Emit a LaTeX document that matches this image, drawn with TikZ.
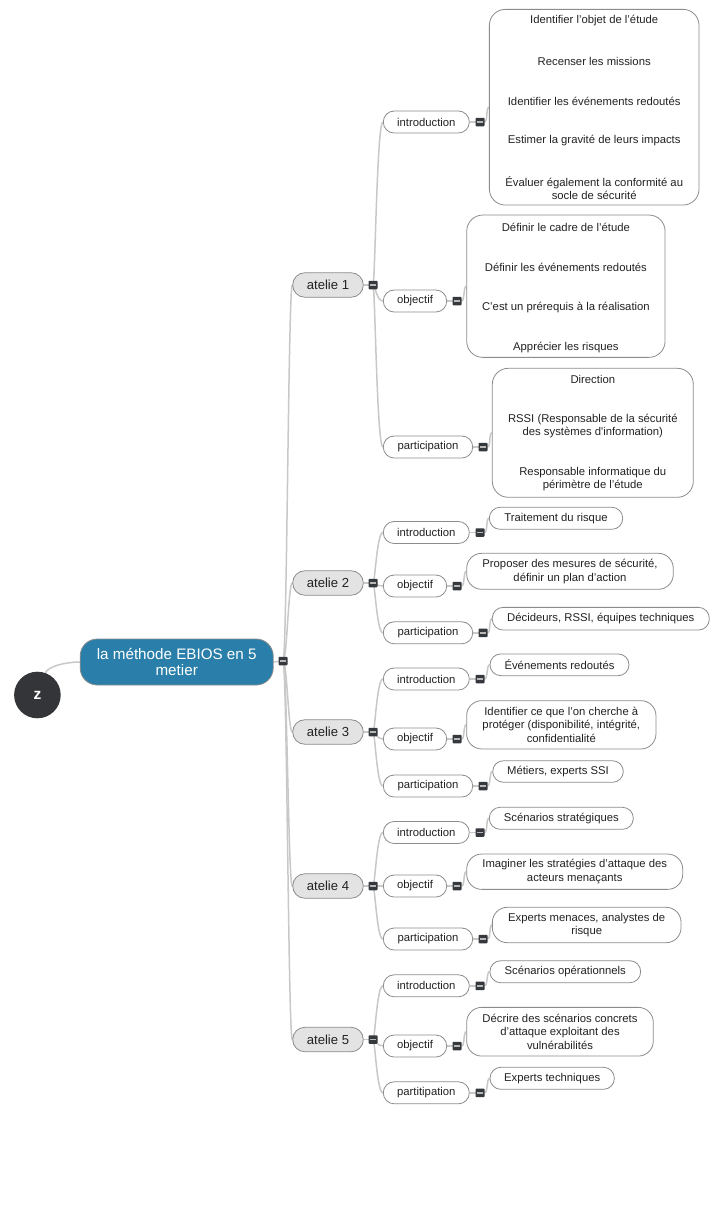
\documentclass[tikz,border=0pt]{standalone}
\usepackage{fontspec}
\setmainfont{Liberation Sans}
\usetikzlibrary{backgrounds}
\definecolor{linec}{HTML}{C8C8C8}
\definecolor{borderc}{HTML}{8C8C8C}
\definecolor{minusc}{HTML}{35383C}
\definecolor{rootc}{HTML}{2A7FAA}
\definecolor{ateliec}{HTML}{E3E3E3}
\definecolor{textc}{HTML}{222222}
\definecolor{zcol}{HTML}{333538}
\begin{document}
\begin{tikzpicture}[x=1pt,y=-1pt,
 link/.style={draw=linec,line width=1.5pt},
 box/.style={draw=borderc,line width=0.8pt,fill=white,inner sep=0pt,text=textc,align=center,font=\fontsize{11.3}{13.6}\selectfont},
 lbl/.style={box,minimum height=22pt,rounded corners=10.9pt},
 pill/.style={box,rounded corners=10.8pt},
 pilltwo/.style={box,rounded corners=15pt},
 atl/.style={box,fill=ateliec,minimum width=70.6pt,minimum height=24.5pt,rounded corners=12.2pt,font=\fontsize{13.1}{15}\selectfont},
 lt/.style={inner sep=0pt,text=textc,align=center,font=\fontsize{11.3}{12.8}\selectfont},
 mn/.style={rectangle,fill=minusc,minimum width=9pt,minimum height=8.5pt,inner sep=0pt,rounded corners=0.8pt,
   path picture={\draw[line width=1.5pt,draw=white!72!black] ([xshift=-2.6pt]path picture bounding box.center) -- ([xshift=2.6pt]path picture bounding box.center);}},
]
\useasboundingbox (0,0) rectangle (725,1210);

% root and z
\node[circle,fill=zcol,minimum size=46.6pt,inner sep=0pt,text=white,font=\bfseries\fontsize{15.5}{15.5}\selectfont] (z) at (37.4,695) {z};
\node[box,fill=rootc,text=white,minimum width=193pt,minimum height=46pt,rounded corners=17pt,font=\fontsize{15.2}{16.7}\selectfont] (root) at (176.7,662) {la méthode EBIOS en 5\\metier};
\node[mn] (root-m) at (283,661) {};

% atelie boxes
\node[atl] (a1) at (328,285) {atelie 1};
\node[atl] (a2) at (328,583) {atelie 2};
\node[atl] (a3) at (328,732) {atelie 3};
\node[atl] (a4) at (328,886) {atelie 4};
\node[atl] (a5) at (328,1039.5) {atelie 5};
\node[mn] (a1-m) at (373,285) {};
\node[mn] (a2-m) at (373,583) {};
\node[mn] (a3-m) at (373,732) {};
\node[mn] (a4-m) at (373,886) {};
\node[mn] (a5-m) at (373,1039.5) {};

% ---------- atelie 1
\node[lbl,minimum width=86pt] (a1-i) at (426.3,122) {introduction};
\node[mn] (a1-i-m) at (480,122) {};
\node[lbl,minimum width=63.4pt] (a1-o) at (415,301) {objectif};
\node[mn] (a1-o-m) at (457,301) {};
\node[lbl,minimum width=89.4pt] (a1-p) at (428,447) {participation};
\node[mn] (a1-p-m) at (483,447) {};

\node[box,minimum width=209.7pt,minimum height=195.7pt,rounded corners=16pt] (a1-i-l) at (594.2,107.2) {};
\node[lt] (a1-i-t1) at (594.2,21) {Identifier l’objet de l’étude};
\node[lt] (a1-i-t2) at (594.2,61) {Recenser les missions};
\node[lt] (a1-i-t3) at (594.2,101) {Identifier les événements redoutés};
\node[lt] (a1-i-t4) at (594.2,141) {Estimer la gravité de leurs impacts};
\node[lt] (a1-i-t5) at (594.2,188) {Évaluer également la conformité au\\socle de sécurité};

\node[box,minimum width=198.3pt,minimum height=142.3pt,rounded corners=16pt] (a1-o-l) at (565.9,286.2) {};
\node[lt] (a1-o-t1) at (565.9,227.3) {Définir le cadre de l’étude};
\node[lt] (a1-o-t2) at (565.9,267.3) {Définir les événements redoutés};
\node[lt] (a1-o-t3) at (565.9,307.3) {C’est un prérequis à la réalisation};
\node[lt] (a1-o-t4) at (565.9,347.3) {Apprécier les risques};

\node[box,minimum width=201pt,minimum height=129pt,rounded corners=16pt] (a1-p-l) at (592.8,432.8) {};
\node[lt] (a1-p-t1) at (592.8,379.3) {Direction};
\node[lt] (a1-p-t2) at (592.8,426.3) {RSSI (Responsable de la sécurité\\des systèmes d\textquotesingle information)};
\node[lt] (a1-p-t3) at (592.8,479.3) {Responsable informatique du\\périmètre de l’étude};

% ---------- atelie 2
\node[lbl,minimum width=86pt] (a2-i) at (426.3,532.5) {introduction};
\node[mn] (a2-i-m) at (480,532.5) {};
\node[lbl,minimum width=63.4pt] (a2-o) at (415,586) {objectif};
\node[mn] (a2-o-m) at (457,586) {};
\node[lbl,minimum width=89.4pt] (a2-p) at (428,632.8) {participation};
\node[mn] (a2-p-m) at (483,632.8) {};
\node[pill,minimum width=133.4pt,minimum height=22pt] (a2-i-l) at (556,518.3) {Traitement du risque};
\node[pilltwo,minimum width=206.6pt,minimum height=36pt] (a2-o-l) at (570,571.3) {Proposer des mesures de sécurité,\\définir un plan d’action};
\node[pill,minimum width=217pt,minimum height=22.7pt] (a2-p-l) at (600.8,618.7) {Décideurs, RSSI, équipes techniques};

% ---------- atelie 3
\node[lbl,minimum width=86pt] (a3-i) at (426.3,679) {introduction};
\node[mn] (a3-i-m) at (480,679) {};
\node[lbl,minimum width=63.4pt] (a3-o) at (415,739) {objectif};
\node[mn] (a3-o-m) at (457,739) {};
\node[lbl,minimum width=89.4pt] (a3-p) at (428,786) {participation};
\node[mn] (a3-p-m) at (483,786) {};
\node[pill,minimum width=139pt,minimum height=21.7pt] (a3-i-l) at (559.5,664.8) {Événements redoutés};
\node[pilltwo,minimum width=189.3pt,minimum height=48.3pt] (a3-o-l) at (561.3,724.8) {Identifier ce que l’on cherche à\\protéger (disponibilité, intégrité,\\confidentialité};
\node[pill,minimum width=130.6pt,minimum height=21.6pt] (a3-p-l) at (558,771.5) {Métiers, experts SSI};

% ---------- atelie 4
\node[lbl,minimum width=86pt] (a4-i) at (426.3,832.5) {introduction};
\node[mn] (a4-i-m) at (480,832.5) {};
\node[lbl,minimum width=63.4pt] (a4-o) at (415,886) {objectif};
\node[mn] (a4-o-m) at (457,886) {};
\node[lbl,minimum width=89.4pt] (a4-p) at (428,939) {participation};
\node[mn] (a4-p-m) at (483,939) {};
\node[pill,minimum width=144pt,minimum height=22pt] (a4-i-l) at (561.3,818.3) {Scénarios stratégiques};
\node[pilltwo,minimum width=216pt,minimum height=35.3pt] (a4-o-l) at (574.7,871.7) {Imaginer les stratégies d’attaque des\\acteurs menaçants};
\node[pilltwo,minimum width=188.7pt,minimum height=35.4pt] (a4-p-l) at (586.7,925) {Experts menaces, analystes de\\risque};

% ---------- atelie 5
\node[lbl,minimum width=86pt] (a5-i) at (426.3,985.8) {introduction};
\node[mn] (a5-i-m) at (480,985.8) {};
\node[lbl,minimum width=63.4pt] (a5-o) at (415,1046) {objectif};
\node[mn] (a5-o-m) at (457,1046) {};
\node[lbl,minimum width=86pt] (a5-p) at (426.3,1092.8) {partitipation};
\node[mn] (a5-p-m) at (480,1092.8) {};
\node[pill,minimum width=150.7pt,minimum height=22pt] (a5-i-l) at (565.3,971.7) {Scénarios opérationnels};
\node[pilltwo,minimum width=186.6pt,minimum height=48.7pt] (a5-o-l) at (560,1031.7) {Décrire des scénarios concrets\\d’attaque exploitant des\\vulnérabilités};
\node[pill,minimum width=124.3pt,minimum height=22pt] (a5-p-l) at (552.2,1078.3) {Experts techniques};

% ---------- connectors
\begin{pgfonlayer}{background}
\fill[white] (0,0) rectangle (725,1210);
\draw[link] (z.70) .. controls +(70:7pt) and +(180:14pt) .. (root.west);
\draw[link] (root.east) -- (root-m.center);
\foreach \g in {1,...,5} {
  \draw[link] (root-m.center) to[out=0,in=180,out distance=4pt,in distance=4pt] (a\g.west);
  \draw[link] (a\g.east) -- (a\g-m.center);
  \foreach \k in {i,o,p} {
    \draw[link] (a\g-m.center) to[out=0,in=180,out distance=2pt,in distance=6pt] (a\g-\k.west);
    \draw[link] (a\g-\k.east) -- (a\g-\k-m.center);
    \draw[link] (a\g-\k-m.east) to[out=0,in=180,out distance=3pt,in distance=3pt] (a\g-\k-l.west);
  }
}
\end{pgfonlayer}
\end{tikzpicture}
\end{document}
